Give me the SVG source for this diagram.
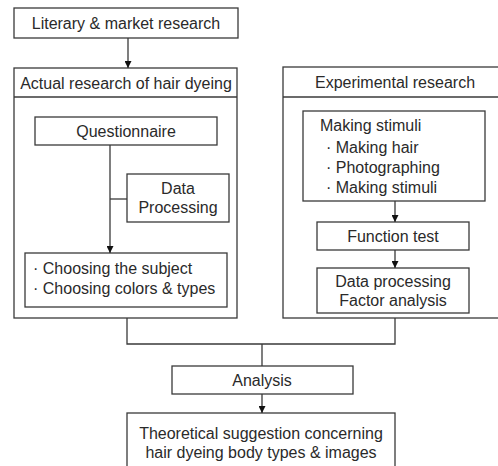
<svg xmlns="http://www.w3.org/2000/svg" width="498" height="466" viewBox="0 0 498 466">
<style>
rect{fill:#fff;stroke:#3a3a3a;stroke-width:1.3}
line,polyline{fill:none;stroke:#3a3a3a;stroke-width:1.3}
text{font-family:"Liberation Sans",Arial,sans-serif;font-size:16px;fill:#2a2a2a}
.c{text-anchor:middle}
</style>
<defs>
<marker id="ah" viewBox="0 0 10 10" refX="10" refY="5" markerWidth="7" markerHeight="7" markerUnits="userSpaceOnUse" orient="auto">
<path d="M0,0L10,5L0,10z" fill="#111"/>
</marker>
</defs>
<g id="literary">
<rect x="14" y="8" width="224" height="30"/>
<text class="c" x="126" y="29">Literary &amp; market research</text>
</g>
<g id="actual">
<rect x="14" y="68" width="223" height="250"/>
<line x1="14" y1="97" x2="237" y2="97"/>
<text class="c" x="126" y="89">Actual research of hair dyeing</text>
</g>
<g id="questionnaire">
<rect x="35" y="117" width="182" height="28"/>
<text class="c" x="126" y="137">Questionnaire</text>
</g>
<g id="dataproc1">
<rect x="127" y="174" width="102" height="48"/>
<text class="c" x="178" y="194">Data</text>
<text class="c" x="178" y="213">Processing</text>
</g>
<g id="choose">
<rect x="25" y="253" width="202" height="54"/>
<text x="33" y="274">· Choosing the subject</text>
<text x="33" y="294">· Choosing colors &amp; types</text>
</g>
<g id="experimental">
<rect x="283" y="67" width="224" height="251"/>
<line x1="283" y1="97" x2="507" y2="97"/>
<text class="c" x="395" y="88">Experimental research</text>
</g>
<g id="stimuli">
<rect x="303" y="111" width="182" height="90"/>
<text x="320" y="131">Making stimuli</text>
<text x="326" y="153">· Making hair</text>
<text x="326" y="173">· Photographing</text>
<text x="326" y="193">· Making stimuli</text>
</g>
<g id="function">
<rect x="317" y="222" width="152" height="28"/>
<text class="c" x="393" y="242">Function test</text>
</g>
<g id="dataproc2">
<rect x="317" y="268" width="152" height="45"/>
<text class="c" x="393" y="287">Data processing</text>
<text class="c" x="393" y="306">Factor analysis</text>
</g>
<g id="analysis">
<rect x="172" y="366" width="181" height="28"/>
<text class="c" x="262" y="386">Analysis</text>
</g>
<g id="theoretical">
<rect x="127" y="413" width="268" height="60"/>
<text class="c" x="261" y="439">Theoretical suggestion concerning</text>
<text class="c" x="261" y="458">hair dyeing body types &amp; images</text>
</g>
<g id="connectors">
<line x1="128" y1="38" x2="128" y2="68" marker-end="url(#ah)"/>
<line x1="110" y1="145" x2="110" y2="253" marker-end="url(#ah)"/>
<line x1="110" y1="199" x2="127" y2="199"/>
<line x1="395" y1="201" x2="395" y2="222" marker-end="url(#ah)"/>
<line x1="395" y1="250" x2="395" y2="268" marker-end="url(#ah)"/>
<polyline points="127,318 127,344 395,344 395,318"/>
<line x1="262" y1="344" x2="262" y2="366"/>
<line x1="262" y1="394" x2="262" y2="413" marker-end="url(#ah)"/>
</g>
</svg>
